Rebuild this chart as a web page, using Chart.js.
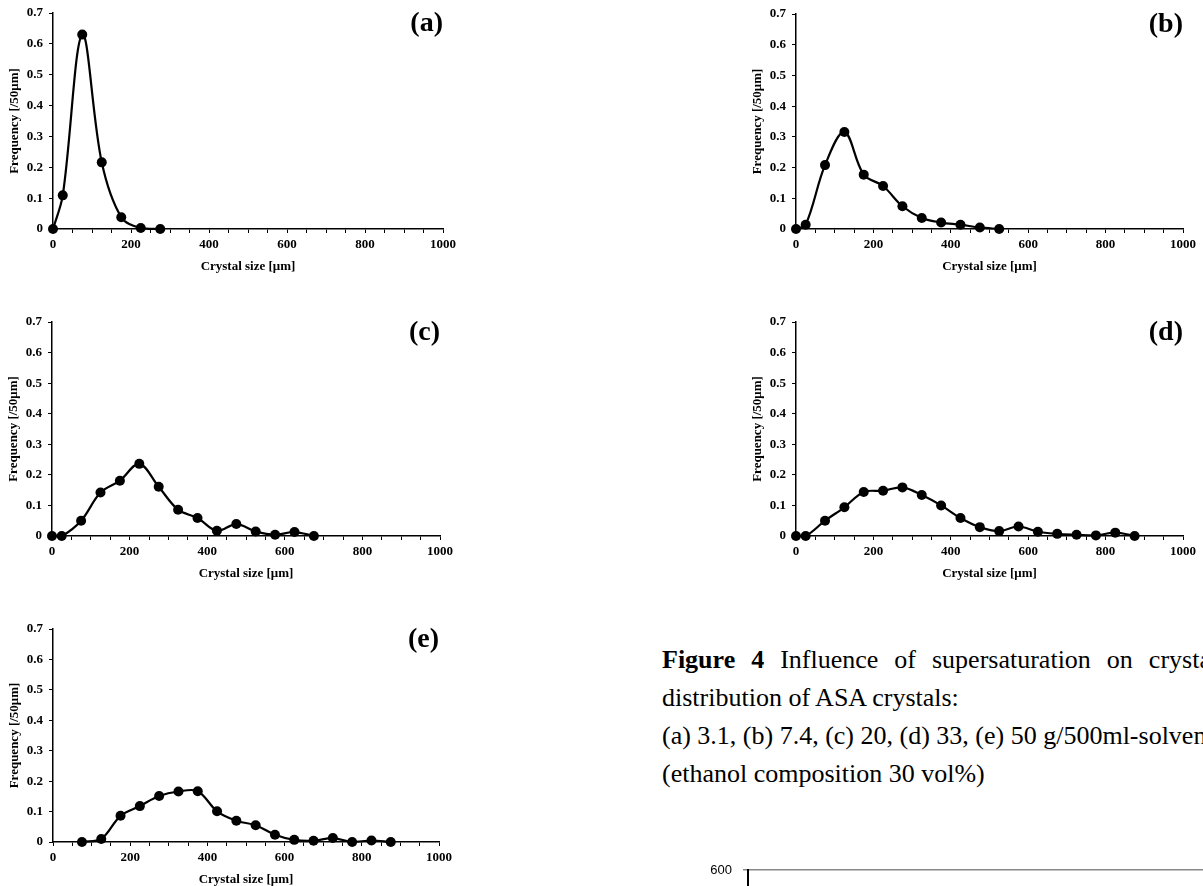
<!DOCTYPE html>
<html><head><meta charset="utf-8">
<script src="https://cdn.jsdelivr.net/npm/chart.js@4.4.1/dist/chart.umd.min.js"></script>
<style>
html,body{margin:0;padding:0;background:#fff;}
body{width:1203px;height:886px;overflow:hidden;position:relative;}
canvas{position:absolute;}
.cap{position:absolute;left:662px;font-family:"Times New Roman","Liberation Serif",serif;font-size:26px;white-space:nowrap;color:#000;line-height:26px;}
</style></head><body>
<canvas id="ca"></canvas>
<canvas id="cb"></canvas>
<canvas id="cc"></canvas>
<canvas id="cd"></canvas>
<canvas id="ce"></canvas>
<canvas id="cf"></canvas>
<div class="cap" style="top:647px;word-spacing:9.5px;"><b>Figure 4</b> Influence of supersaturation on crystal size</div>
<div class="cap" style="top:685px;">distribution of ASA crystals:</div>
<div class="cap" style="top:723px;">(a) 3.1, (b) 7.4, (c) 20, (d) 33, (e) 50 g/500ml-solvent</div>
<div class="cap" style="top:761px;">(ethanol composition 30 vol%)</div>
<script>
// ---- data ----
const sizesA = [0, 25, 75, 125, 175, 225, 275];
const freqA  = [0, 0.109, 0.630, 0.216, 0.038, 0.003, 0];

const sizesB = [0, 25, 75, 125, 175, 225, 275, 325, 375, 425, 475, 525];
const freqB  = [0, 0.014, 0.208, 0.316, 0.177, 0.140, 0.074, 0.036, 0.021, 0.014, 0.005, 0];

const sizesC = [0, 25, 75, 125, 175, 225, 275, 325, 375, 425, 475, 525, 575, 625, 675];
const freqC  = [0, 0, 0.050, 0.142, 0.181, 0.236, 0.161, 0.086, 0.059, 0.017, 0.039, 0.015, 0.004, 0.013, 0];

const sizesD = [0, 25, 75, 125, 175, 225, 275, 325, 375, 425, 475, 525, 575, 625, 675, 725, 775, 825, 875];
const freqD  = [0, 0, 0.050, 0.094, 0.144, 0.148, 0.159, 0.134, 0.100, 0.059, 0.029, 0.016, 0.031, 0.014, 0.007, 0.004, 0.002, 0.011, 0];

const sizesE = [75, 125, 175, 225, 275, 325, 375, 425, 475, 525, 575, 625, 675, 725, 775, 825, 875];
const freqE  = [0, 0.010, 0.086, 0.118, 0.151, 0.166, 0.167, 0.101, 0.070, 0.055, 0.024, 0.007, 0.004, 0.013, 0, 0.005, 0];

const panelLabels = ['(a)', '(b)', '(c)', '(d)', '(e)'];
const xTitle = 'Crystal size [μm]';
const yTitle = 'Frequency [/50μm]';
const xRange = [0, 1000];
const yRange = [0, 0.7];
const lowerChartYRange = [0, 600];

// ---- layout ----
Chart.defaults.devicePixelRatio = 1;
const SERIF = '"Times New Roman","Liberation Serif",serif';

const panelLabelPlugin = {
  id: 'panelLabel',
  afterDraw(chart, args, opts) {
    if (!opts || !opts.text) return;
    const {ctx, chartArea} = chart;
    ctx.save();
    ctx.font = 'bold 28px ' + SERIF;
    ctx.fillStyle = '#000';
    ctx.textAlign = 'right';
    ctx.textBaseline = 'alphabetic';
    ctx.fillText(opts.text, chartArea.right, chartArea.top + 18);
    ctx.restore();
  }
};

function makePanel(id, area, sizes, freqs, label) {
  const yW = 53, topPad = 20, rightPad = 25, xH = 50;
  const cx = area.l - yW, cy = area.t - topPad;
  const W = area.r - cx + rightPad, H = area.b + xH - cy;
  const cv = document.getElementById(id);
  cv.width = W; cv.height = H;
  cv.style.left = cx + 'px'; cv.style.top = cy + 'px';
  cv.style.width = W + 'px'; cv.style.height = H + 'px';
  new Chart(cv, {
    type: 'line',
    data: {
      datasets: [{
        data: sizes.map((s, i) => ({x: s, y: freqs[i]})),
        borderColor: '#000',
        backgroundColor: '#000',
        borderWidth: 2.2,
        pointRadius: 5,
        pointBackgroundColor: '#000',
        pointBorderColor: '#000',
        pointBorderWidth: 0,
        tension: 0.35,
        fill: false,
        clip: false
      }]
    },
    options: {
      responsive: false,
      animation: false,
      layout: {padding: {left: 0, top: topPad, right: rightPad, bottom: 0}},
      plugins: {legend: {display: false}, tooltip: {enabled: false}, panelLabel: {text: label}},
      scales: {
        x: {
          type: 'linear', min: xRange[0], max: xRange[1],
          afterFit: s => { s.height = xH; },
          border: {display: true, color: '#000', width: 1.5},
          grid: {drawOnChartArea: false, drawTicks: true, tickLength: 4, color: '#000', lineWidth: 1},
          ticks: {
            stepSize: 50, autoSkip: false, maxRotation: 0, minRotation: 0,
            padding: 4, color: '#000',
            font: {family: SERIF, size: 13, weight: 'bold'},
            callback: v => (Math.round(v) % 200 === 0 ? String(Math.round(v)) : '')
          },
          title: {display: true, text: xTitle, color: '#000',
            font: {family: SERIF, size: 13, weight: 'bold'}, padding: {top: 0, bottom: 5}}
        },
        y: {
          type: 'linear', min: yRange[0], max: yRange[1],
          afterFit: s => { s.width = yW; },
          border: {display: true, color: '#000', width: 1.5},
          grid: {drawOnChartArea: false, drawTicks: true, tickLength: 4, color: '#000', lineWidth: 1},
          ticks: {
            stepSize: 0.1, padding: 6, color: '#000',
            font: {family: SERIF, size: 13, weight: 'bold'},
            callback: v => (Math.abs(v) < 1e-9 ? '0' : v.toFixed(1))
          },
          title: {display: true, text: yTitle, color: '#000',
            font: {family: SERIF, size: 13, weight: 'bold'}, padding: {top: 7, bottom: 0}}
        }
      }
    },
    plugins: [panelLabelPlugin]
  });
}

makePanel('ca', {l: 53, t: 13, r: 443, b: 229}, sizesA, freqA, panelLabels[0]);
makePanel('cb', {l: 796, t: 14, r: 1183, b: 229}, sizesB, freqB, panelLabels[1]);
makePanel('cc', {l: 52, t: 322, r: 440, b: 536}, sizesC, freqC, panelLabels[2]);
makePanel('cd', {l: 796, t: 322, r: 1183, b: 536}, sizesD, freqD, panelLabels[3]);
makePanel('ce', {l: 53, t: 629, r: 439, b: 842}, sizesE, freqE, panelLabels[4]);

// partially visible chart at the bottom right (only its top edge is in view)
(function () {
  const cv = document.getElementById('cf');
  const cx = 700, cy = 840, W = 600, H = 200;
  cv.width = W; cv.height = H;
  cv.style.left = cx + 'px'; cv.style.top = cy + 'px';
  cv.style.width = W + 'px'; cv.style.height = H + 'px';
  new Chart(cv, {
    type: 'line',
    data: {datasets: [{data: []}]},
    options: {
      responsive: false, animation: false,
      layout: {padding: {left: 0, top: 30, right: 0, bottom: 0}},
      plugins: {legend: {display: false}, tooltip: {enabled: false}},
      scales: {
        x: {type: 'linear', display: false, min: 0, max: 1},
        y: {
          type: 'linear', min: lowerChartYRange[0], max: lowerChartYRange[1],
          afterFit: s => { s.width = 48; },
          border: {display: true, color: '#000', width: 2},
          grid: {color: '#888', lineWidth: 1.5, tickLength: 5},
          ticks: {stepSize: 100, padding: 11, color: '#000',
            font: {family: '"Liberation Sans", Arial, sans-serif', size: 13}}
        }
      }
    }
  });
})();
</script>
</body></html>
